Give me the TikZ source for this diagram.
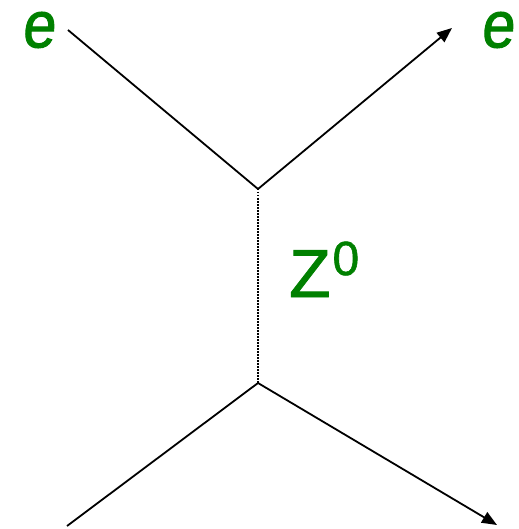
\documentclass[tikz,border=0pt]{standalone}
\usepackage{fontspec}
\setmainfont{Liberation Sans}
\newfontfamily\lblfont[FakeSlant=0.12,FakeBold=1.6]{Liberation Sans}
\newfontfamily\bosfont[FakeBold=1.2]{Liberation Sans}
\usetikzlibrary{arrows.meta}
\definecolor{lblgreen}{RGB}{0,128,0}
\begin{document}
\begin{tikzpicture}[x=1bp,y=-1bp,
  fermion/.style={line width=1.8bp,black},
  boson/.style={line width=1.8bp,black,dash pattern=on 1.5bp off 1.5bp},
  tip/.style={-{Triangle[length=15bp,width=12bp]}},
  lbl/.style={text=lblgreen,inner sep=0pt,font=\lblfont\fontsize{66}{68}\selectfont}]
\useasboundingbox (0,0) rectangle (519,529);
\coordinate (inL) at (68,30);
\coordinate (outR) at (452,28);
\coordinate (vt) at (258,189);
\coordinate (vb) at (258,383);
\coordinate (inB) at (67,526);
\coordinate (outB) at (497,525);
\draw[fermion] (inL) -- (vt);
\draw[fermion,tip] (vt) -- (outR);
\draw[boson] (vt) -- (vb);
\draw[fermion] (inB) -- (vb);
\draw[fermion,tip] (vb) -- (outB);
\node[lbl,xscale=0.9] (eL) at (38,30) {e};
\node[lbl,xscale=0.9] (eR) at (497,30) {e};
\node[text=lblgreen,inner sep=0pt,anchor=base west] (Z) at (289,297)
  {\bosfont\fontsize{68}{70}\selectfont Z\kern2bp\raisebox{22bp}{\fontsize{48}{50}\selectfont 0}};
\end{tikzpicture}
\end{document}
